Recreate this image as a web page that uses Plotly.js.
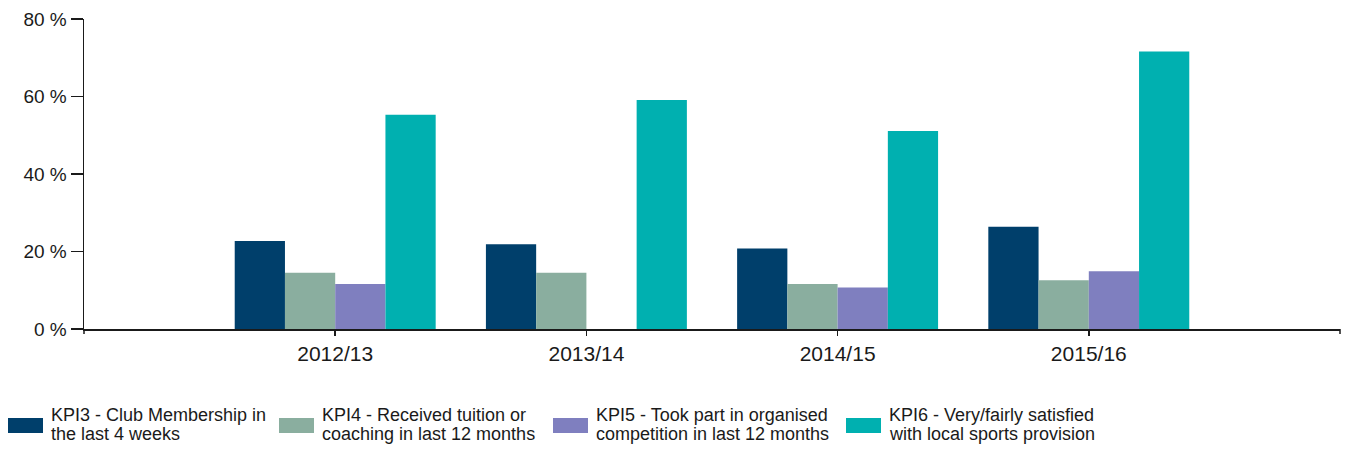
<!DOCTYPE html>
<html>
<head>
<meta charset="utf-8">
<script src="https://cdn.plot.ly/plotly-3.0.1.min.js"></script>
<style>html,body{margin:0;padding:0;background:#fff;}#chart{width:1348px;height:450px;}</style>
</head>
<body>
<div id="chart"></div>
<script>
const categories = ["2012/13", "2013/14", "2014/15", "2015/16"];
const seriesNames = [
  ["KPI3 - Club Membership in", "the last 4 weeks"],
  ["KPI4 - Received tuition or", "coaching in last 12 months"],
  ["KPI5 - Took part in organised", "competition in last 12 months"],
  ["KPI6 - Very/fairly satisfied", "with local sports provision"]
];
const kpi3 = [22.7, 21.9, 20.8, 26.4];
const kpi4 = [14.5, 14.5, 11.6, 12.6];
const kpi5 = [11.6, null, 10.7, 14.9];
const kpi6 = [55.3, 59.1, 51.1, 71.6];
const yTickVals = [0, 20, 40, 60, 80];
const yTickText = ["0 %", "20 %", "40 %", "60 %", "80 %"];
const colors = ["#003f6b", "#8aae9f", "#7f7fbf", "#00b0b0"];

const W = 1348, H = 450;
const M = {l: 84, r: 8, t: 19, b: 121};
const PW = W - M.l - M.r, PH = H - M.t - M.b;
const px2x = p => (p - M.l) / PW;
const px2y = p => (H - M.b - p) / PH;

const FONT = "'Liberation Sans Narrow', 'Arial Narrow', 'Liberation Sans', Arial, sans-serif";
const values = [kpi3, kpi4, kpi5, kpi6];

const traces = values.map((v, i) => ({
  type: "bar",
  x: categories,
  y: v,
  name: seriesNames[i].join(" "),
  marker: {color: colors[i], line: {width: 0}},
  showlegend: false,
  hoverinfo: "x+y"
}));

// custom legend (swatch + two-line label)
const legendX = [8, 279, 553, 846];
const shapes = [];
const annotations = [];
legendX.forEach((lx, i) => {
  shapes.push({type: "rect", xref: "paper", yref: "paper",
    x0: px2x(lx), x1: px2x(lx + 35), y0: px2y(433), y1: px2y(418),
    fillcolor: colors[i], line: {width: 0}});
  seriesNames[i].forEach((line, j) => {
    annotations.push({xref: "paper", yref: "paper", x: px2x(lx + 41), y: px2y(415 + j * 19),
      xanchor: "left", yanchor: "middle", showarrow: false, text: line,
      font: {family: FONT, size: 18, color: "#1a1a1a"}});
  });
});
// axis end ticks
shapes.push({type: "line", xref: "paper", yref: "paper", x0: 0, x1: 0, y0: 0, y1: px2y(334), line: {color: "#1a1a1a", width: 1.5}});
shapes.push({type: "line", xref: "paper", yref: "paper", x0: 1, x1: 1, y0: 0, y1: px2y(334), line: {color: "#1a1a1a", width: 1.5}});

const layout = {
  width: W, height: H,
  margin: M,
  paper_bgcolor: "#fff", plot_bgcolor: "#fff",
  barmode: "group", bargap: 0.2, bargroupgap: 0,
  font: {family: FONT, size: 19, color: "#1a1a1a"},
  xaxis: {
    type: "category", range: [-1, 4], showgrid: false, zeroline: false,
    showline: true, linecolor: "#1a1a1a", linewidth: 1.5,
    ticks: "outside", ticklen: 5, tickcolor: "#1a1a1a", tickwidth: 1.5,
    tickfont: {family: FONT, size: 21, color: "#1a1a1a"}, fixedrange: true
  },
  yaxis: {
    range: [0, 80], tickvals: yTickVals, ticktext: yTickText,
    showgrid: false, zeroline: false,
    showline: true, linecolor: "#1a1a1a", linewidth: 1.5,
    ticks: "outside", ticklen: 12, tickcolor: "#1a1a1a", tickwidth: 1.5,
    tickfont: {family: FONT, size: 19, color: "#1a1a1a"}, fixedrange: true
  },
  shapes: shapes,
  annotations: annotations,
  showlegend: false
};

Plotly.newPlot("chart", traces, layout, {displayModeBar: false, staticPlot: true});
</script>
</body>
</html>
